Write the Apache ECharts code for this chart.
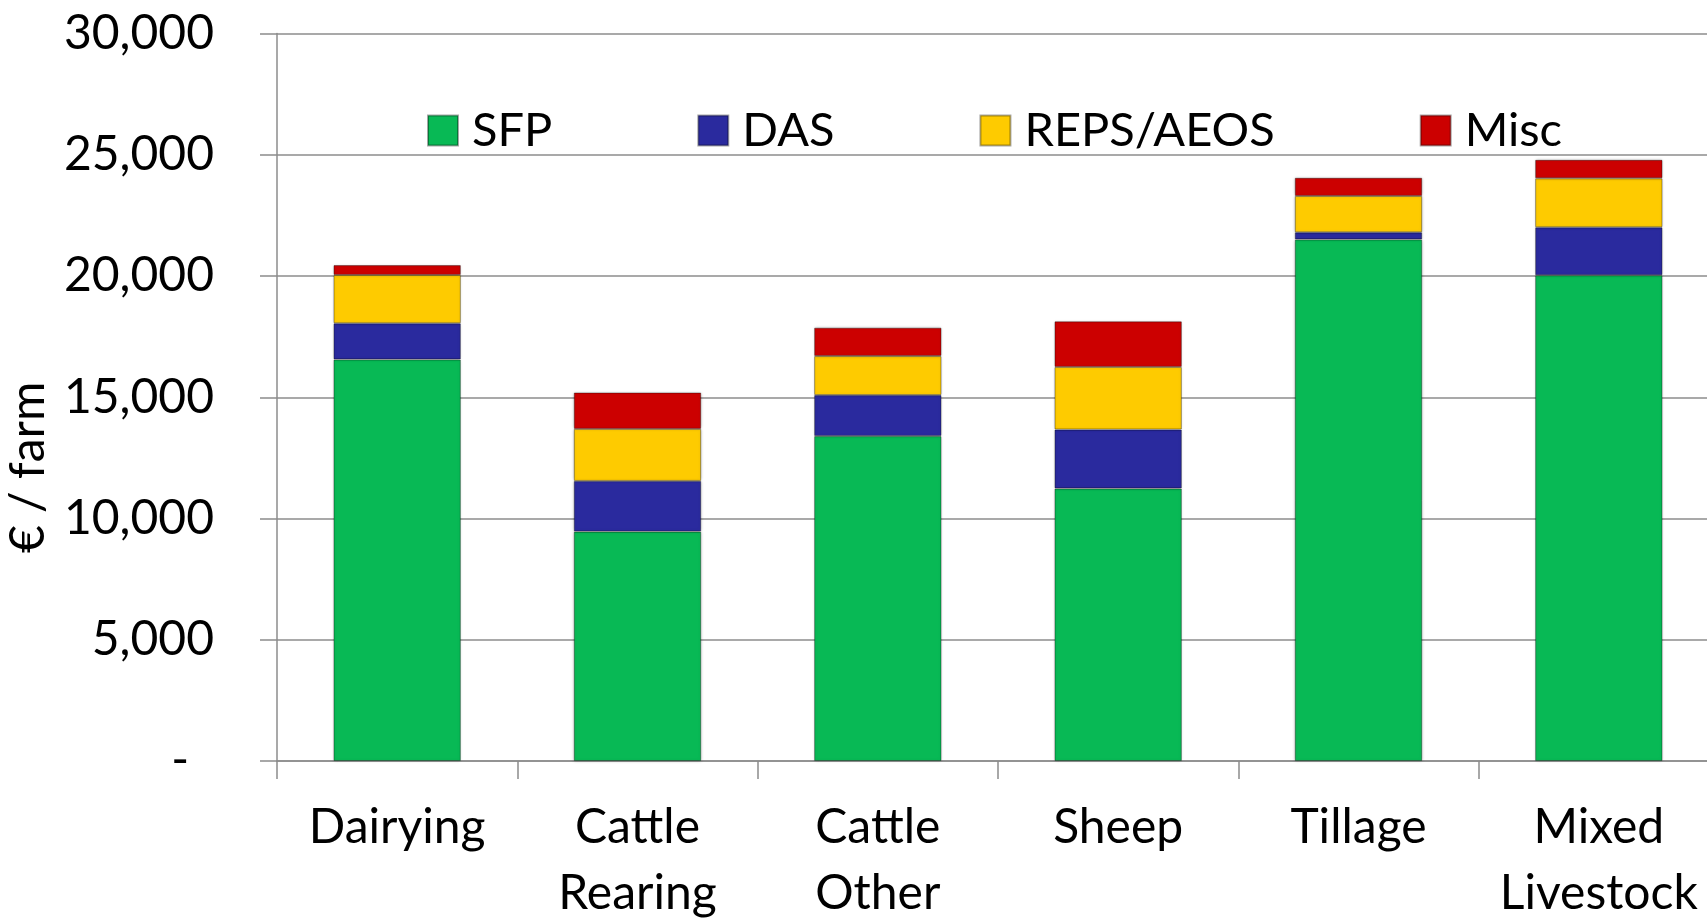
<!DOCTYPE html>
<html>
<head>
<meta charset="utf-8">
<script src="https://cdn.jsdelivr.net/npm/echarts/dist/echarts.min.js"></script>
<style>
  html, body { margin: 0; padding: 0; background: #fff; }
  #main { width: 1707px; height: 918px; }
</style>
</head>
<body>
<div id="main"></div>
<script>
// farm types along the x axis
const categories = ['Dairying', 'Cattle\nRearing', 'Cattle\nOther', 'Sheep', 'Tillage', 'Mixed\nLivestock']

// € / farm
const sfp = [16560, 9460, 13400, 11240, 21510, 20030]
const das = [1490, 2090, 1690, 2430, 290, 1980]
const repsAeos = [1990, 2145, 1610, 2580, 1500, 2020]
const misc = [410, 1500, 1170, 1880, 750, 760]

const seriesNames = ['SFP', 'DAS', 'REPS/AEOS', 'Misc']
const colors = ['#08b955', '#2a2a9e', '#fecb00', '#cc0000']
const yTicks = { min: 0, max: 30000, interval: 5000 }

const font = 'Lato, "Open Sans", sans-serif'
const gridGray = '#8c8c8c'

const chart = echarts.init(document.getElementById('main'))

function bar(name, data) {
  return {
    name: name,
    type: 'bar',
    stack: 'total',
    data: data,
    barCategoryGap: '47%',
    itemStyle: {
      borderColor: 'rgba(0,0,0,0.35)',
      borderWidth: 1,
      shadowColor: 'rgba(0,0,0,0.25)',
      shadowBlur: 3
    }
  }
}

chart.setOption({
  animation: false,
  color: colors,
  legend: {
    left: 427,
    top: 107,
    padding: 0,
    itemWidth: 30,
    itemHeight: 30,
    itemGap: 145,
    icon: 'rect',
    data: seriesNames,
    textStyle: {
      fontFamily: font,
      fontSize: 47,
      color: '#000',
      padding: [0, 0, 0, 9]
    }
  },
  grid: {
    left: 277,
    top: 33.5,
    bottom: 157,
    right: -12,
    outerBoundsMode: 'none'
  },
  xAxis: {
    type: 'category',
    data: categories,
    axisLine: { lineStyle: { color: gridGray, width: 1.5 } },
    axisTick: { show: true, interval: 0, length: 18, lineStyle: { color: gridGray, width: 1.5 } },
    axisLabel: {
      interval: 0,
      margin: 34,
      fontFamily: font,
      fontSize: 48,
      lineHeight: 66,
      color: '#000'
    }
  },
  yAxis: {
    type: 'value',
    min: yTicks.min,
    max: yTicks.max,
    interval: yTicks.interval,
    name: '€ / farm',
    nameLocation: 'middle',
    nameGap: 213,
    nameTextStyle: {
      fontFamily: font,
      fontSize: 48,
      color: '#000',
      padding: [0, 140, 0, 0]
    },
    axisLine: { show: true, lineStyle: { color: gridGray, width: 1.5 } },
    axisTick: { show: true, length: 17, lineStyle: { color: gridGray, width: 1.5 } },
    splitLine: { lineStyle: { color: gridGray, width: 1.5 } },
    axisLabel: {
      margin: 63,
      fontFamily: font,
      fontSize: 48,
      color: '#000',
      formatter: function (v) {
        if (v === 0) return '{d|-}'
        return v.toLocaleString('en-US')
      },
      rich: {
        d: { fontFamily: font, fontSize: 48, color: '#000', padding: [0, 25, 0, 0] }
      }
    }
  },
  series: [
    bar(seriesNames[0], sfp),
    bar(seriesNames[1], das),
    bar(seriesNames[2], repsAeos),
    bar(seriesNames[3], misc)
  ]
})
</script>
</body>
</html>
